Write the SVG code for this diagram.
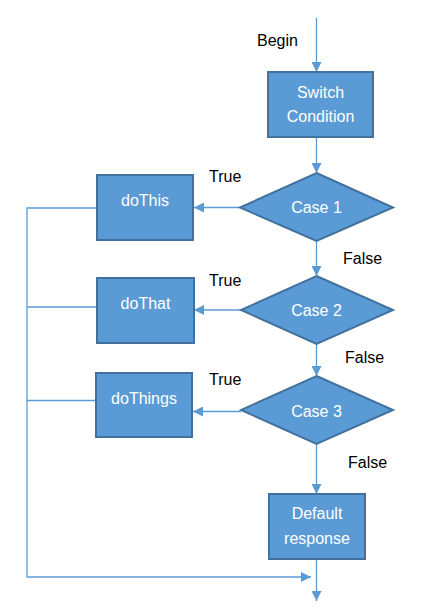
<svg xmlns="http://www.w3.org/2000/svg" width="445" height="609" viewBox="0 0 445 609">
<style>
.box{fill:#5B9BD5;stroke:#41719C;stroke-width:2}
.in{fill:#fff;font-family:"Liberation Sans",Arial,sans-serif;font-size:16px;text-anchor:middle}
.lbl{fill:#000;font-family:"Liberation Sans",Arial,sans-serif;font-size:16px}
.ln{fill:none;stroke:#5B9BD5;stroke-width:1.3}
</style>
<defs>
<marker id="ah" viewBox="0 0 10 10" refX="10" refY="5" markerWidth="10" markerHeight="10" markerUnits="userSpaceOnUse" orient="auto">
<path d="M0,0 L10,5 L0,10 Z" fill="#5B9BD5"/>
</marker>
</defs>
<rect width="445" height="609" fill="#fff"/>
<g id="connectors">
<line class="ln" x1="316.5" y1="18" x2="316.5" y2="72" marker-end="url(#ah)"/>
<line class="ln" x1="316.5" y1="137" x2="316.5" y2="173" marker-end="url(#ah)"/>
<line class="ln" x1="316.5" y1="241" x2="316.5" y2="276" marker-end="url(#ah)"/>
<line class="ln" x1="316.5" y1="344" x2="316.5" y2="376" marker-end="url(#ah)"/>
<line class="ln" x1="316.5" y1="444" x2="316.5" y2="494" marker-end="url(#ah)"/>
<line class="ln" x1="316.5" y1="559" x2="316.5" y2="601" marker-end="url(#ah)"/>
<line class="ln" x1="240" y1="207.5" x2="194" y2="207.5" marker-end="url(#ah)"/>
<line class="ln" x1="241" y1="310" x2="194" y2="310" marker-end="url(#ah)"/>
<line class="ln" x1="241" y1="411.5" x2="193" y2="411.5" marker-end="url(#ah)"/>
<polyline class="ln" points="97,208 27,208 27,577 311,577" marker-end="url(#ah)"/>
<line class="ln" x1="97" y1="307" x2="27" y2="307"/>
<line class="ln" x1="96" y1="400.5" x2="27" y2="400.5"/>
<text class="lbl" x="257" y="46">Begin</text>
<text class="lbl" x="209" y="182">True</text>
<text class="lbl" x="343" y="264">False</text>
<text class="lbl" x="209" y="286">True</text>
<text class="lbl" x="345" y="363">False</text>
<text class="lbl" x="209" y="385">True</text>
<text class="lbl" x="348" y="468">False</text>
</g>
<g id="switch">
<rect class="box" x="268" y="72" width="105" height="65"/>
<text class="in" x="320.5" y="98">Switch</text>
<text class="in" x="320.5" y="122">Condition</text>
</g>
<g id="case1">
<polygon class="box" points="316.5,173 393,207.5 316.5,241 240,207.5"/>
<text class="in" x="316.5" y="213">Case 1</text>
</g>
<g id="doThis">
<rect class="box" x="97" y="175" width="96" height="65"/>
<text class="in" x="145" y="206">doThis</text>
</g>
<g id="case2">
<polygon class="box" points="316.5,276 393,310 316.5,344 241,310"/>
<text class="in" x="316.5" y="316">Case 2</text>
</g>
<g id="doThat">
<rect class="box" x="97" y="278" width="97" height="65"/>
<text class="in" x="145.5" y="309">doThat</text>
</g>
<g id="case3">
<polygon class="box" points="316.5,376 393,410 316.5,444 241,410"/>
<text class="in" x="316.5" y="417">Case 3</text>
</g>
<g id="doThings">
<rect class="box" x="96" y="373" width="96" height="64"/>
<text class="in" x="144" y="404">doThings</text>
</g>
<g id="default">
<rect class="box" x="269" y="494" width="96" height="65"/>
<text class="in" x="317" y="519">Default</text>
<text class="in" x="317" y="544">response</text>
</g>
</svg>
